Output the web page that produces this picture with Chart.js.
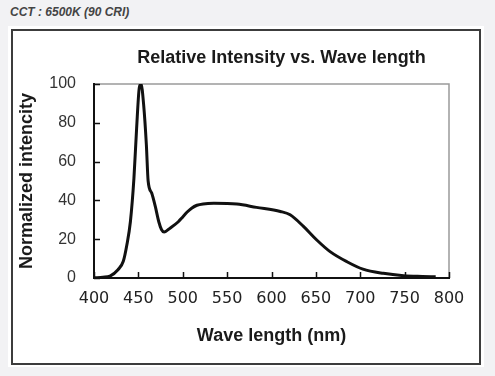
<!DOCTYPE html>
<html>
<head>
<meta charset="utf-8">
<script src="https://cdn.jsdelivr.net/npm/chart.js@4/dist/chart.umd.min.js"></script>
<style>
  html, body { margin: 0; padding: 0; }
  body { width: 495px; height: 376px; background: #f2f2f4; position: relative; overflow: hidden; }
  #cct { position: absolute; left: 10px; top: 5px; font: italic bold 12px "Liberation Sans", Arial, sans-serif; color: #444; }
  #panel { position: absolute; left: 8px; top: 26px; width: 476px; height: 341px; background: #fff; }
  #box { position: absolute; left: 11px; top: 29px; width: 466px; height: 332px; border: 2px solid #3c3c3c; background: #fff; }
  #wrap { position: absolute; left: 0; top: 0; width: 495px; height: 376px; }
</style>
</head>
<body>
<div id="cct">CCT : 6500K (90 CRI)</div>
<div id="panel"></div>
<div id="box"></div>
<div id="wrap"><canvas id="spectrum"></canvas></div>
<script>
// spectrum
const wavelengths = [400, 410, 418, 427, 433, 437, 441, 445, 448, 451, 453, 456, 459, 461, 465, 469, 473, 476, 479, 486, 495, 500, 505, 510, 516, 523, 535, 561, 583, 610, 621, 636, 651, 666, 685, 703, 726, 749, 770, 785];
const intensity = [0.1, 0.4, 1, 4.3, 8.6, 17, 29, 51.5, 77, 98, 100, 89, 68.7, 50, 43.8, 37, 29, 25, 23.7, 25.8, 29, 31.5, 34, 36, 37.5, 38.2, 38.5, 38.1, 36.4, 34.3, 32.6, 26.6, 19.6, 13.6, 8.4, 4.6, 2.4, 1.2, 0.8, 0.6];

const titleText = 'Relative Intensity vs. Wave length';
const xTitle = 'Wave length (nm)';
const yTitle = 'Normalized intencity';

const points = wavelengths.map((w, i) => ({ x: w, y: intensity[i] }));

// grey frame round the plot + chart title + inward tick marks
const framePlugin = {
    id: 'frame',
    beforeDraw(chart) {
        const a = chart.chartArea;
        const ctx = chart.ctx;
        ctx.save();
        ctx.strokeStyle = '#9a9a9a';
        ctx.lineWidth = 1.5;
        ctx.strokeRect(a.left, a.top, a.right - a.left, a.bottom - a.top);
        ctx.fillStyle = '#1a1a1a';
        ctx.font = 'bold 18px "Liberation Sans", Arial, sans-serif';
        ctx.textAlign = 'center';
        ctx.textBaseline = 'alphabetic';
        ctx.fillText(titleText, (a.left + a.right) / 2 + 10, 63);
        ctx.restore();
    },
    afterDraw(chart) {
        const a = chart.chartArea;
        const ctx = chart.ctx;
        const xs = chart.scales.x, ys = chart.scales.y;
        ctx.save();
        ctx.strokeStyle = '#111';
        ctx.lineWidth = 1.5;
        ctx.beginPath();
        xs.ticks.forEach(t => {
            const px = Math.round(xs.getPixelForValue(t.value)) + 0.5;
            ctx.moveTo(px, a.bottom);
            ctx.lineTo(px, a.bottom - 6);
        });
        ys.ticks.forEach(t => {
            const py = Math.round(ys.getPixelForValue(t.value)) + 0.5;
            ctx.moveTo(a.left, py);
            ctx.lineTo(a.left + 6, py);
        });
        ctx.stroke();
        ctx.restore();
    }
};

new Chart(document.getElementById('spectrum').getContext('2d'), {
    type: 'line',
    data: {
        datasets: [{
            data: points,
            borderColor: '#111',
            borderWidth: 3,
            pointRadius: 0,
            fill: false,
            cubicInterpolationMode: 'monotone'
        }]
    },
    options: {
        responsive: true,
        maintainAspectRatio: false,
        animation: false,
        layout: { padding: { left: 10, right: 46, top: 84, bottom: 26 } },
        plugins: {
            legend: { display: false },
            tooltip: { enabled: false }
        },
        scales: {
            x: {
                type: 'linear',
                min: 400,
                max: 800,
                afterFit(scale) { scale.height = 72; },
                grid: { display: false, drawOnChartArea: false, drawTicks: false },
                border: { display: true, color: '#111', width: 2 },
                ticks: {
                    stepSize: 50,
                    padding: 11,
                    color: '#222',
                    font: { family: '"DejaVu Sans", sans-serif', size: 16 }
                },
                title: {
                    display: true,
                    text: xTitle,
                    color: '#1a1a1a',
                    padding: { top: 0, bottom: 3 },
                    font: { family: '"Liberation Sans", Arial, sans-serif', size: 18, weight: 'bold' }
                }
            },
            y: {
                min: 0,
                max: 100,
                afterFit(scale) { scale.width = 84; },
                grid: { display: false, drawOnChartArea: false, drawTicks: false },
                border: { display: true, color: '#111', width: 2 },
                ticks: {
                    stepSize: 20,
                    padding: 18,
                    color: '#333',
                    font: { family: '"Liberation Sans", Arial, sans-serif', size: 16 }
                },
                title: {
                    display: true,
                    text: yTitle,
                    color: '#1a1a1a',
                    padding: { top: 6, bottom: 0 },
                    font: { family: '"Liberation Sans", Arial, sans-serif', size: 18, weight: 'bold' }
                }
            }
        }
    },
    plugins: [framePlugin]
});
</script>
</body>
</html>
